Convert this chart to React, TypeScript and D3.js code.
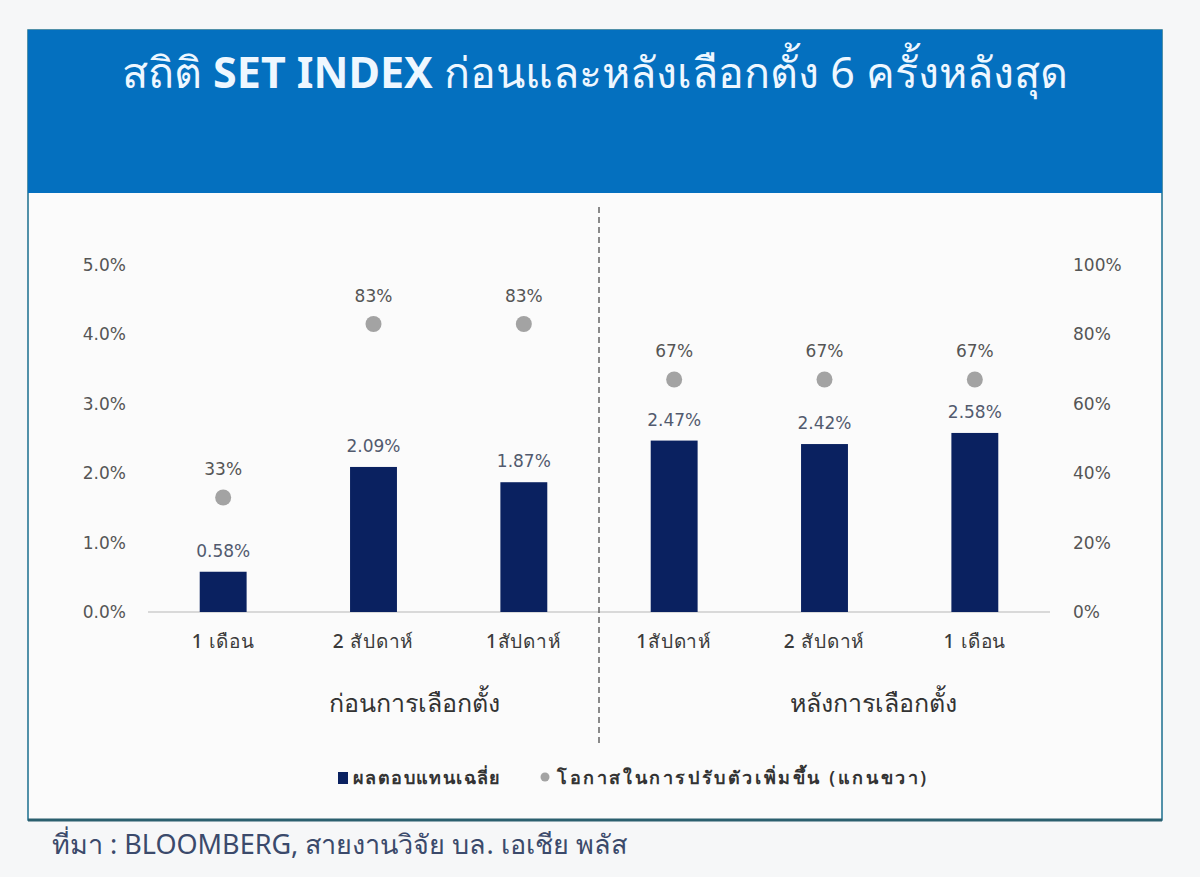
import React from 'react'
import { scaleLinear, scaleBand } from 'd3'

const W = 1200, H = 877
const margin = { top: 265, right: 150, bottom: 265, left: 148 }
const plotW = 1050 - margin.left
const plotH = 612 - margin.top

const categories = ['1 เดือน', '2 สัปดาห์', '1สัปดาห์', '1สัปดาห์', '2 สัปดาห์', '1 เดือน']
const avgReturn = [0.58, 2.09, 1.87, 2.47, 2.42, 2.58]
const upChance = [33, 83, 83, 67, 67, 67]
const leftTicks = [0, 1, 2, 3, 4, 5]
const rightTicks = [0, 20, 40, 60, 80, 100]
const groupLabels = ['ก่อนการเลือกตั้ง', 'หลังการเลือกตั้ง']

const BAR = '#0a2160'
const DOT = '#a3a3a3'
const FONT = "'Noto Sans', 'DejaVu Sans', sans-serif"
const NUM_FONT = "'DejaVu Sans', sans-serif"

export default function App() {
  const keys = categories.map((c, i) => `${i}`)
  const x = scaleBand().domain(keys).range([0, plotW]).paddingInner(0.688).paddingOuter(0.344)
  const yL = scaleLinear().domain([0, 5]).range([plotH, 0])
  const yR = scaleLinear().domain([0, 100]).range([plotH, 0])
  const cx = (i: number) => (x(`${i}`) ?? 0) + x.bandwidth() / 2
  const splitX = (cx(2) + cx(3)) / 2

  return (
    <svg width={W} height={H} style={{ position: 'absolute', left: 0, top: 0 }} fontFamily={FONT}>
      <rect width={W} height={H} fill="#f6f7f8" />
      {/* frame */}
      <rect x={28} y={30} width={1134} height={790} fill="#fbfbfb" stroke="#1b6f8f" strokeWidth={1.5} />
      <line x1={28} x2={1162} y1={820} y2={820} stroke="#2b5f6e" strokeWidth={3} />
      <rect x={28} y={30} width={1134} height={163} fill="#0470bf" />
      <text x={595} y={88} textAnchor="middle" fill="#eef7ff" fontSize={43}>
        สถิติ <tspan fontWeight="bold">SET INDEX</tspan> ก่อนและหลังเลือกตั้ง 6 ครั้งหลังสุด
      </text>

      <g transform={`translate(${margin.left},${margin.top})`}>
        {leftTicks.map(t => (
          <text key={`l${t}`} x={-22} y={yL(t)} dy="0.35em" textAnchor="end" fontSize={17} fill="#555" fontFamily={NUM_FONT}>
            {t.toFixed(1)}%
          </text>
        ))}
        {rightTicks.map(t => (
          <text key={`r${t}`} x={plotW + 23} y={yR(t)} dy="0.35em" textAnchor="start" fontSize={17} fill="#555" fontFamily={NUM_FONT}>
            {t}%
          </text>
        ))}
        <line x1={0} x2={plotW} y1={plotH} y2={plotH} stroke="#d9d9d9" strokeWidth={2} />

        {avgReturn.map((v, i) => (
          <g key={`b${i}`}>
            <rect x={x(`${i}`)} y={yL(v)} width={x.bandwidth()} height={plotH - yL(v)} fill={BAR} />
            <text x={cx(i)} y={yL(v) - 21} dy="0.35em" textAnchor="middle" fontSize={17} fill="#525a6e" fontFamily={NUM_FONT}>
              {v.toFixed(2)}%
            </text>
          </g>
        ))}
        {upChance.map((v, i) => (
          <g key={`d${i}`}>
            <circle cx={cx(i)} cy={yR(v)} r={8} fill={DOT} />
            <text x={cx(i)} y={yR(v) - 28} dy="0.35em" textAnchor="middle" fontSize={17} fill="#555" fontFamily={NUM_FONT}>
              {v}%
            </text>
          </g>
        ))}

        {categories.map((c, i) => (
          <text key={`c${i}`} x={cx(i)} y={plotH + 29} dy="0.35em" textAnchor="middle" fontSize={19}
            letterSpacing={0.8} fontWeight={500} fill="#3a3a3a">
            {c}
          </text>
        ))}

        <line x1={splitX} x2={splitX} y1={207 - margin.top} y2={745 - margin.top}
          stroke="#666" strokeWidth={1.5} strokeDasharray="6 4" />

        <text x={cx(1) + 41} y={703 - margin.top} dy="0.35em" textAnchor="middle" fontSize={25} fill="#333">
          {groupLabels[0]}
        </text>
        <text x={cx(4) + 49} y={703 - margin.top} dy="0.35em" textAnchor="middle" fontSize={25} fill="#333">
          {groupLabels[1]}
        </text>
      </g>

      {/* legend */}
      <rect x={338} y={772} width={10} height={12} fill={BAR} />
      <text x={353} y={778} dy="0.35em" fontSize={18} letterSpacing={1.4} fontWeight={600} fill="#333">ผลตอบแทนเฉลี่ย</text>
      <circle cx={545} cy={777} r={4.5} fill={DOT} />
      <text x={557} y={778} dy="0.35em" fontSize={18} letterSpacing={2.6} fontWeight={600} fill="#333">โอกาสในการปรับตัวเพิ่มขึ้น (แกนขวา)</text>

      <text x={52} y={845} dy="0.35em" fontSize={27} fill="#3b4a6b">
        ที่มา : BLOOMBERG, สายงานวิจัย บล. เอเชีย พลัส
      </text>
    </svg>
  )
}
